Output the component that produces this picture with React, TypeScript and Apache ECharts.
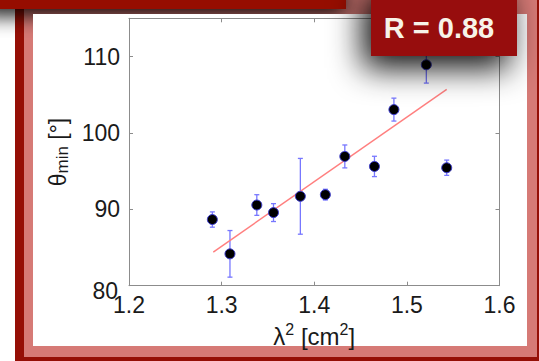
import React, { useEffect, useRef } from "react";
import * as echarts from "echarts";

// λ² [cm²]
const lambdaSq = [1.290, 1.309, 1.338, 1.356, 1.385, 1.412, 1.433, 1.465, 1.486, 1.521, 1.543];
// θ_min [°]
const thetaMin = [88.66, 84.17, 90.56, 89.57, 91.7, 91.92, 96.92, 95.61, 103.05, 108.92, 95.44];
// error (±)
const thetaErr = [1.0, 3.05, 1.35, 1.17, 4.96, 0.7, 1.5, 1.33, 1.5, 2.4, 1.0];
// linear fit endpoints
const fitX = [1.291, 1.543];
const fitY = [84.4, 105.7];
const xTicks = { min: 1.2, max: 1.6, interval: 0.1 };
const yTicks = { min: 80, max: 115, interval: 10 };
const rLabel = "R = 0.88";

const FONT = "Liberation Sans, Arial, Helvetica, sans-serif";
const AXIS_COLOR = "#8c8c8c";

export default function App() {
  const ref = useRef<HTMLDivElement>(null);
  useEffect(() => {
    if (!ref.current) return;
    const chart = echarts.init(ref.current, undefined, { renderer: "svg" });
    const points = lambdaSq.map((x, i) => [x, thetaMin[i]]);
    const errData = lambdaSq.map((x, i) => [x, thetaMin[i], thetaErr[i]]);
    const fitData = fitX.map((x, i) => [x, fitY[i]]);

    const axisCommon = {
      axisLine: { show: true, onZero: false, lineStyle: { color: AXIS_COLOR, width: 1 } },
      axisTick: { show: true, inside: true, length: 4, lineStyle: { color: AXIS_COLOR } },
      splitLine: { show: false },
    };

    chart.setOption({
      animation: false,
      backgroundColor: "#ffffff",
      grid: { left: 129, right: 39.5, top: 18.3, bottom: 75.3, containLabel: false },
      xAxis: [
        {
          type: "value",
          position: "bottom",
          min: xTicks.min,
          max: xTicks.max,
          interval: xTicks.interval,
          ...axisCommon,
          axisLabel: {
            show: true,
            margin: 8,
            color: "#1a1a1a",
            fontSize: 23,
            fontFamily: FONT,
            formatter: (v: number) => v.toFixed(1),
          },
          name: "{m|λ}{s|2}{m| [cm}{s|2}{m|]}",
          nameLocation: "middle",
          nameGap: 35,
          nameTextStyle: {
            color: "#1a1a1a",
            fontFamily: FONT,
            rich: {
              m: { fontSize: 24, lineHeight: 30, fontFamily: FONT, color: "#1a1a1a", verticalAlign: "middle" },
              s: { fontSize: 16, lineHeight: 16, fontFamily: FONT, color: "#1a1a1a", verticalAlign: "top" },
            },
          },
        },
        {
          type: "value",
          position: "top",
          min: xTicks.min,
          max: xTicks.max,
          interval: xTicks.interval,
          ...axisCommon,
          axisLabel: { show: false },
        },
      ],
      yAxis: [
        {
          type: "value",
          position: "left",
          min: yTicks.min,
          max: yTicks.max,
          interval: yTicks.interval,
          ...axisCommon,
          axisLabel: {
            show: true,
            margin: 9,
            showMaxLabel: false,
            color: "#1a1a1a",
            fontSize: 23,
            fontFamily: FONT,
            formatter: (v: number) => (v === yTicks.min ? "{low|" + v + "}" : "{n|" + v + "}"),
            rich: {
              n: { fontSize: 23, fontFamily: FONT, color: "#1a1a1a" },
              low: { fontSize: 23, fontFamily: FONT, color: "#1a1a1a", padding: [10, 2, 0, 0] },
            },
          },
          name: "{m|θ}{s|min}{m| [°]}",
          nameLocation: "middle",
          nameGap: 54,
          nameTextStyle: {
            color: "#1a1a1a",
            fontFamily: FONT,
            rich: {
              m: { fontSize: 23, lineHeight: 24, fontFamily: FONT, color: "#1a1a1a", verticalAlign: "top" },
              s: { fontSize: 17, lineHeight: 16, fontFamily: FONT, color: "#1a1a1a", verticalAlign: "bottom" },
            },
          },
        },
        {
          type: "value",
          position: "right",
          min: yTicks.min,
          max: yTicks.max,
          interval: yTicks.interval,
          ...axisCommon,
          axisLabel: { show: false },
        },
      ],
      series: [
        {
          type: "line",
          data: fitData,
          xAxisIndex: 0,
          yAxisIndex: 0,
          showSymbol: false,
          symbol: "none",
          lineStyle: { color: "#ff7f7f", width: 1.5 },
          z: 2,
          silent: true,
        },
        {
          type: "custom",
          xAxisIndex: 0,
          yAxisIndex: 0,
          data: errData,
          encode: { x: 0, y: 1 },
          z: 2,
          renderItem: (params: any, api: any) => {
            const x = api.value(0);
            const y = api.value(1);
            const e = api.value(2);
            const top = api.coord([x, y + e]);
            const bot = api.coord([x, y - e]);
            const cw = 2.5;
            const style = { stroke: "#7777ff", lineWidth: 1.3 };
            return {
              type: "group",
              children: [
                { type: "line", shape: { x1: top[0], y1: top[1], x2: bot[0], y2: bot[1] }, style },
                { type: "line", shape: { x1: top[0] - cw, y1: top[1], x2: top[0] + cw, y2: top[1] }, style },
                { type: "line", shape: { x1: bot[0] - cw, y1: bot[1], x2: bot[0] + cw, y2: bot[1] }, style },
              ],
            };
          },
        },
        {
          type: "scatter",
          xAxisIndex: 0,
          yAxisIndex: 0,
          data: points,
          symbol: "circle",
          symbolSize: 10,
          itemStyle: { color: "#000000", borderColor: "#3a3acc", borderWidth: 1, opacity: 1 },
          z: 3,
        },
      ],
      graphic: {
        elements: [
          { type: "rect", z: -20, silent: true, shape: { x: 15, y: -20, width: 540, height: 381 }, style: { fill: "#950f06" } },
          { type: "rect", z: -19, silent: true, shape: { x: 24, y: -20, width: 513, height: 377 }, style: { fill: "#d67a76" } },
          {
            type: "rect",
            z: -18,
            silent: true,
            shape: { x: -20, y: -20, width: 366, height: 29 },
            style: { fill: "#960f05", shadowBlur: 20, shadowColor: "rgba(0,0,0,0.9)", shadowOffsetY: 7 },
          },
          { type: "rect", z: -17, silent: true, shape: { x: 33, y: 14, width: 494, height: 332 }, style: { fill: "#ffffff" } },
          {
            type: "rect",
            z: 50,
            silent: true,
            shape: { x: 371, y: -20, width: 146, height: 76 },
            style: { fill: "#971007", shadowBlur: 32, shadowColor: "rgba(0,0,0,0.95)", shadowOffsetX: -8, shadowOffsetY: 12 },
          },
          {
            type: "text",
            z: 51,
            silent: true,
            x: 439,
            y: 28,
            style: {
              text: rLabel,
              fill: "#f7f3e8",
              font: "bold 29px " + FONT,
              textAlign: "center",
              textVerticalAlign: "middle",
              align: "center",
              verticalAlign: "middle",
            },
          },
        ],
      },
    });
    return () => chart.dispose();
  }, []);

  return (
    <div
      ref={ref}
      style={{ position: "absolute", left: 0, top: 0, width: 539, height: 361, background: "#ffffff" }}
    />
  );
}
